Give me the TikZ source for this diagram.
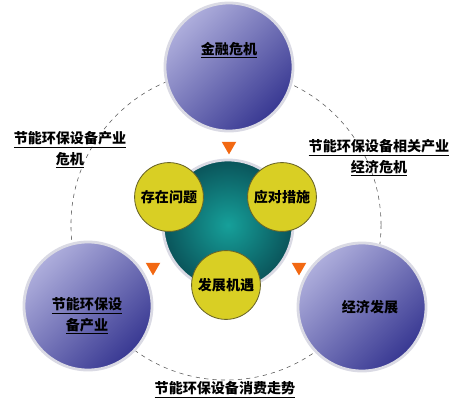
\documentclass[tikz,border=0pt]{standalone}
\usepackage{fontspec}
\setmainfont{Noto Sans CJK SC}
\usetikzlibrary{shapes.geometric}
\definecolor{lilac}{RGB}{174,174,220}
\definecolor{navy}{RGB}{56,56,146}
\definecolor{rim}{RGB}{218,218,228}
\definecolor{tealin}{RGB}{22,160,154}
\definecolor{tealout}{RGB}{10,84,90}
\definecolor{yolk}{RGB}{217,207,36}
\definecolor{olive}{RGB}{105,100,40}
\definecolor{orange}{RGB}{242,104,18}

\begin{document}
\begin{tikzpicture}[x=0.025cm,y=0.025cm,font=\fontsize{10pt}{14.5pt}\selectfont\bfseries]
  \tikzset{big/.style={draw=rim,line width=2pt,circle,inner sep=0pt,minimum size=3.2cm,top color=lilac,bottom color=navy,shading angle=45}}
  \tikzset{core/.style={draw=rim,line width=2pt,circle,inner sep=0pt,minimum size=3.25cm,inner color=tealin,outer color=tealout}}
  \tikzset{bubble/.style={draw=olive,line width=0.6pt,circle,inner sep=0pt,minimum size=1.72cm,fill=yolk}}
  \tikzset{tip/.style={fill=orange,regular polygon,regular polygon sides=3,shape border rotate=180,minimum size=0.42cm,inner sep=0pt}}
  \tikzset{lbl/.style={inner sep=0pt,align=center}}

  \useasboundingbox (0,0) rectangle (462,-409);

  % dashed ring behind everything
  \coordinate (mid) at (226,-225);
  \draw[dashed,black!65] (mid) circle (3.875cm);

  % outer circles
  \node[big] (crisis) at (229,-67) {};
  \node[big] (industry) at (88,-306) {};
  \node[big] (economy) at (362,-307) {};

  % centre
  \node[core] (hub) at (228,-225) {};
  \node[bubble] (problem) at (169,-197) {存在问题};
  \node[bubble] (measure) at (282,-197) {应对措施};
  \node[bubble] (chance) at (226,-285) {发展机遇};

  % orange marks
  \node[tip] (tiptop) at (229,-146) {};
  \node[tip] (tipleft) at (153,-267) {};
  \node[tip] (tipright) at (299,-267) {};

  % texts
  \node[lbl] (crisistxt) at (229,-50) {\underline{金融危机}};
  \node[lbl] (industrytxt) at (87,-316) {\underline{节能环保设}\\\underline{备产业}};
  \node[lbl] (economytxt) at (370,-307) {经济发展};

  \node[lbl] (leftlbl) at (70,-150) {\underline{节能环保设备产业}\\\underline{危机}};
  \node[lbl] (rightlbl) at (379,-158) {\underline{节能环保设备相关产业}\\\underline{经济危机}};
  \node[lbl] (bottomlbl) at (225,-390) {\underline{节能环保设备消费走势}};

\end{tikzpicture}
\end{document}
